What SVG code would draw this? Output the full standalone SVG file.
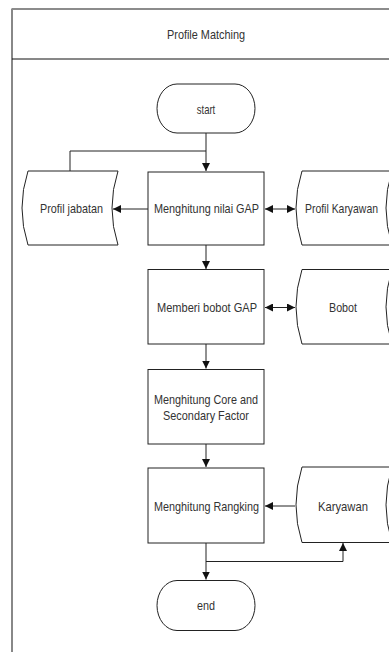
<svg xmlns="http://www.w3.org/2000/svg" width="389" height="652" viewBox="0 0 389 652">
<defs>
<marker id="ah" viewBox="0 0 10 10" refX="10" refY="5" markerWidth="8" markerHeight="8" markerUnits="userSpaceOnUse" orient="auto-start-reverse">
<path d="M0,0 L10,5 L0,10 Z" fill="#111"/>
</marker>
<style>
.shape{fill:#fff;stroke:#222;stroke-width:1}
.t{font-family:"Liberation Sans",Arial,sans-serif;font-size:13px;fill:#333;text-anchor:middle}
.c{fill:none;stroke:#222;stroke-width:1}
</style>
</defs>
<rect x="0" y="0" width="389" height="652" fill="#fff"/>
<g id="frame">
<line x1="12" y1="9" x2="389" y2="9" stroke="#666" stroke-width="1.5"/>
<line x1="12" y1="8.5" x2="12" y2="652" stroke="#888" stroke-width="2"/>
<line x1="12" y1="59" x2="389" y2="59" stroke="#111" stroke-width="1"/>
<text class="t" x="206" y="38.5" textLength="78" lengthAdjust="spacingAndGlyphs">Profile Matching</text>
</g>
<g id="connectors">
<path class="c" d="M206,133 V171" marker-end="url(#ah)"/>
<path class="c" d="M206,151 H70 V171"/>
<path class="c" d="M148,209 H113" marker-end="url(#ah)"/>
<path class="c" d="M265,209 H295" marker-start="url(#ah)" marker-end="url(#ah)"/>
<path class="c" d="M206,245 V269" marker-end="url(#ah)"/>
<path class="c" d="M265,307.5 H295" marker-start="url(#ah)" marker-end="url(#ah)"/>
<path class="c" d="M206,344 V368.5" marker-end="url(#ah)"/>
<path class="c" d="M206,444 V467" marker-end="url(#ah)"/>
<path class="c" d="M295,506 H265" marker-end="url(#ah)"/>
<path class="c" d="M206,543 V579.5" marker-end="url(#ah)"/>
<path class="c" d="M206,561.5 H343 V543" marker-end="url(#ah)"/>
</g>
<g id="start">
<path class="shape" d="M177,84 H235 A20,24.5 0 0 1 235,133 H177 A20,24.5 0 0 1 177,84 Z"/>
<text class="t" x="206" y="113.5" textLength="18.5" lengthAdjust="spacingAndGlyphs">start</text>
</g>
<g id="profil-jabatan">
<path class="shape" d="M28,171 H118 Q106,208 118,245 H28 Q16,208 28,171 Z"/>
<text class="t" x="71.5" y="213" textLength="63" lengthAdjust="spacingAndGlyphs">Profil jabatan</text>
</g>
<g id="hitung-gap">
<rect class="shape" x="148" y="172" width="116" height="73"/>
<text class="t" x="206.5" y="213" textLength="105" lengthAdjust="spacingAndGlyphs">Menghitung nilai GAP</text>
</g>
<g id="profil-karyawan">
<path class="shape" d="M302,171 H392 Q380,208 392,245 H302 Q290,208 302,171 Z"/>
<text class="t" x="341.5" y="213" textLength="73" lengthAdjust="spacingAndGlyphs">Profil Karyawan</text>
</g>
<g id="bobot-gap">
<rect class="shape" x="148" y="269.5" width="116" height="74.5"/>
<text class="t" x="207" y="312" textLength="100" lengthAdjust="spacingAndGlyphs">Memberi bobot GAP</text>
</g>
<g id="bobot">
<path class="shape" d="M302,269.5 H392 Q380,307 392,344 H302 Q290,307 302,269.5 Z"/>
<text class="t" x="343" y="312" textLength="28" lengthAdjust="spacingAndGlyphs">Bobot</text>
</g>
<g id="core-secondary">
<rect class="shape" x="148" y="369.5" width="116" height="74.5"/>
<text class="t" x="206" y="403.5" textLength="104" lengthAdjust="spacingAndGlyphs">Menghitung Core and</text>
<text class="t" x="206" y="419.5" textLength="86" lengthAdjust="spacingAndGlyphs">Secondary Factor</text>
</g>
<g id="rangking">
<rect class="shape" x="148" y="468" width="116" height="75"/>
<text class="t" x="206.5" y="510.5" textLength="105" lengthAdjust="spacingAndGlyphs">Menghitung Rangking</text>
</g>
<g id="karyawan">
<path class="shape" d="M302,467 H392 Q380,505 392,542.5 H302 Q290,505 302,467 Z"/>
<text class="t" x="343" y="510.5" textLength="50" lengthAdjust="spacingAndGlyphs">Karyawan</text>
</g>
<g id="end">
<path class="shape" d="M177,580.5 H235 A20,25 0 0 1 235,630.5 H177 A20,25 0 0 1 177,580.5 Z"/>
<text class="t" x="206" y="610" textLength="18" lengthAdjust="spacingAndGlyphs">end</text>
</g>
</svg>
